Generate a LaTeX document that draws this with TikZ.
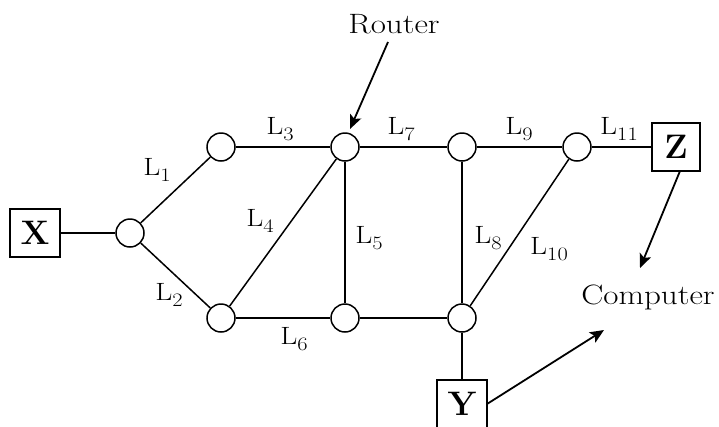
\documentclass[tikz,border=0pt]{standalone}
\usepackage{fontspec}
\usetikzlibrary{arrows.meta}
\newcommand{\widetxt}[1]{\scalebox{1.18}[1]{#1}}
\newcommand{\lnk}[1]{\widetxt{L\lower6pt\hbox{\fontsize{19}{19}\selectfont #1}}}
\begin{document}
\begin{tikzpicture}[x=1pt,y=-1pt,
  router/.style={circle,draw,line width=1.5pt,minimum size=28pt,inner sep=0pt,fill=white},
  endbox/.style={rectangle,draw,line width=1.5pt,minimum width=50pt,minimum height=48pt,inner sep=0pt,fill=white,font=\fontsize{34}{36}\selectfont\bfseries},
  link/.style={line width=1.5pt},
  lab/.style={inner sep=0pt,font=\fontsize{25}{28}\selectfont},
  word/.style={inner sep=0pt,font=\fontsize{28}{32}\selectfont},
  pointer/.style={line width=1.8pt,-{Stealth[length=14pt,width=12pt,inset=3pt]}}]
\useasboundingbox (0,0) rectangle (719,426);
% nodes
\node[endbox] (X) at (35,233) {X};
\node[router] (A) at (130,233) {};
\node[router] (B) at (221,147) {};
\node[router] (C) at (221,318) {};
\node[router] (D) at (345,147) {};
\node[router] (E) at (345,318) {};
\node[router] (F) at (462,147) {};
\node[router] (G) at (462,318) {};
\node[router] (H) at (577,147) {};
\node[endbox,minimum width=48pt] (Z) at (676,147) {Z};
\node[endbox] (Y) at (462,404) {Y};
% links
\draw[link] (X) -- (A);
\draw[link] (A) -- (B);
\draw[link] (A) -- (C);
\draw[link] (B) -- (D);
\draw[link] (C) -- (D);
\draw[link] (D) -- (E);
\draw[link] (C) -- (E);
\draw[link] (D) -- (F);
\draw[link] (E) -- (G);
\draw[link] (F) -- (G);
\draw[link] (F) -- (H);
\draw[link] (G) -- (H);
\draw[link] (H) -- (Z);
\draw[link] (G) -- (Y);
% link labels
\node[lab] (l1) at (157,170) {\lnk{1}};
\node[lab] (l2) at (169,295) {\lnk{2}};
\node[lab] (l3) at (280,129) {\lnk{3}};
\node[lab] (l4) at (260,221) {\lnk{4}};
\node[lab] (l5) at (369,238) {\lnk{5}};
\node[lab] (l6) at (294,339) {\lnk{6}};
\node[lab] (l7) at (401,129) {\lnk{7}};
\node[lab] (l8) at (488,238) {\lnk{8}};
\node[lab] (l9) at (519,129) {\lnk{9}};
\node[lab] (l10) at (549,249) {\lnk{10}};
\node[lab] (l11) at (619,129) {\lnk{11}};
% words and pointers
\node[word] (router) at (394,24) {\widetxt{Router}};
\node[word] (computer) at (648,297) {\widetxt{Computer}};
\coordinate (rs) at (388,42);
\coordinate (rt) at (350,129);
\coordinate (zs) at (680,171);
\coordinate (zc) at (640,268);
\coordinate (ys) at (487,404);
\coordinate (yc) at (604,330);
\draw[pointer] (rs) -- (rt);
\draw[pointer] (zs) -- (zc);
\draw[pointer] (ys) -- (yc);
\end{tikzpicture}
\end{document}
